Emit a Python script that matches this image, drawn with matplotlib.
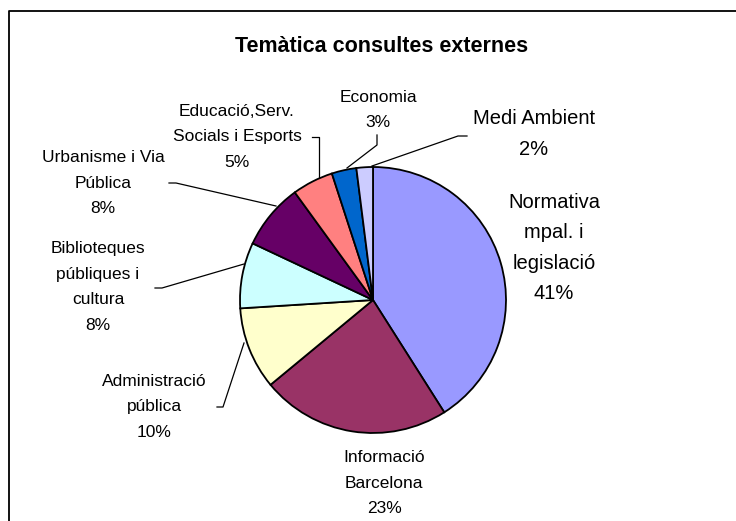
import matplotlib.pyplot as plt

plt.rcParams['font.family'] = ['Liberation Sans', 'DejaVu Sans']

# data (clockwise from 12 o'clock)
topics = ["Normativa\nmpal. i\nlegislació", "Informació\nBarcelona", "Administració\npública",
          "Biblioteques\npúbliques i\ncultura", "Urbanisme i Via\nPública",
          "Educació,Serv.\nSocials i Esports", "Economia", "Medi Ambient"]
percents = [41, 23, 10, 8, 8, 5, 3, 2]
colors = ["#9999FF", "#993366", "#FFFFCC", "#CCFFFF", "#660066", "#FF8080", "#0066CC", "#CCCCFF"]

# label layout in pixels (centre x, centre y, font size)
label_pos = [(554, 248, 14.5), (384, 483, 12.5), (154, 407, 12.5), (98, 287, 12.5),
             (103, 183, 12.5), (237, 137, 12.5), (378, 110, 12.5), (534, 134, 14.5)]
leaders = [None, None,
           [(217, 407), (223, 407), (244, 343)],
           [(155, 288), (162, 288), (244, 264)],
           [(169, 183), (176, 183), (276, 206)],
           [(312, 137), (319, 137), (319, 177)],
           [(377, 135), (377, 145), (347, 168)],
           [(467, 136), (458, 136), (372, 166)]]

fig = plt.figure(figsize=(7.36, 5.21), dpi=100)
ax = fig.add_axes([0, 0, 1, 1])

# y axis is inverted below, so counterclock=True draws clockwise on screen
ax.pie(percents, colors=colors, center=(373, 300), radius=133,
       startangle=-90, counterclock=True,
       wedgeprops=dict(edgecolor='black', linewidth=1.3))

ax.set_xlim(0, 736)
ax.set_ylim(521, 0)
ax.set_aspect('equal')
ax.axis('off')

for name, pct, (x, y, fs), pts in zip(topics, percents, label_pos, leaders):
    ls = 1.75 if fs > 14 else 1.9
    ax.text(x, y, f"{name}\n{pct}%", ha='center', va='center', multialignment='center',
            fontsize=fs, linespacing=ls)
    if pts:
        ax.plot([p[0] for p in pts], [p[1] for p in pts], color='black', lw=0.9)

ax.text(382, 52, "Temàtica consultes externes", ha='center', va='baseline',
        fontsize=15.5, fontweight='bold')

# chart area border (top and left edges only visible)
ax.plot([8.5, 8.5, 736], [521, 10.5, 10.5], color='black', lw=1.3, clip_on=False)

fig.savefig("out.png", dpi=100)
